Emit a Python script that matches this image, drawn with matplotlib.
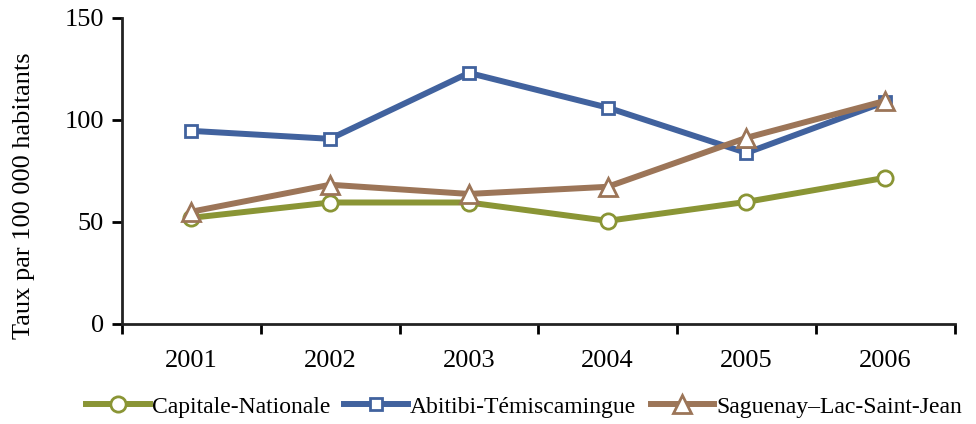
import matplotlib.pyplot as plt
import numpy as np

years = ['2001', '2002', '2003', '2004', '2005', '2006']
capitale = [52, 59.5, 59.5, 50.5, 59.8, 71.6]
abitibi = [94.6, 90.7, 123, 106, 83.8, 108.8]
saguenay = [55, 68.2, 63.7, 67.2, 91.2, 109.3]

plt.rcParams['font.family'] = ['Liberation Serif', 'DejaVu Serif']

fig = plt.figure(figsize=(9.76, 4.24), dpi=100)
ax = fig.add_axes([0.125, 0.236, 0.853, 0.722])

x = np.arange(len(years))
ax.plot(x, capitale, color='#8a9535', lw=4.3, marker='o', ms=11, mfc='white',
        mec='#8a9535', mew=2, label='Capitale-Nationale', zorder=3)
ax.plot(x, abitibi, color='#41629e', lw=4.3, marker='s', ms=8.5, mfc='white',
        mec='#41629e', mew=2, label='Abitibi-Témiscamingue', zorder=4)
ax.plot(x, saguenay, color='#9c7558', lw=4.3, marker='^', ms=13, mfc='white',
        mec='#9c7558', mew=2, label='Saguenay\u2013Lac-Saint-Jean', zorder=5)

ax.set_xlim(-0.5, len(years) - 0.5)
ax.set_ylim(0, 150)
ax.set_yticks([0, 50, 100, 150])
ax.set_xticks(x)
ax.set_xticklabels(years)
ax.set_xticks(np.arange(len(years) + 1) - 0.5, minor=True)
ax.tick_params(axis='x', which='major', length=0, pad=19, labelsize=19)
ax.tick_params(axis='x', which='minor', length=7, width=2, direction='out')
ax.tick_params(axis='y', length=7, width=2, direction='out', labelsize=19, pad=6)
for s in ['top', 'right']:
    ax.spines[s].set_visible(False)
for s in ['left', 'bottom']:
    ax.spines[s].set_linewidth(2)
    ax.spines[s].set_color('#222222')
ax.set_ylabel('Taux par 100 000 habitants', fontsize=19)
ax.yaxis.set_label_coords(-0.104, 0.42)

fig.legend(loc='lower center', bbox_to_anchor=(0.537, -0.035), ncol=3, frameon=False,
           fontsize=17, handlelength=2.7, handletextpad=0.08, columnspacing=0.6)

fig.savefig('out.png', dpi=100)
